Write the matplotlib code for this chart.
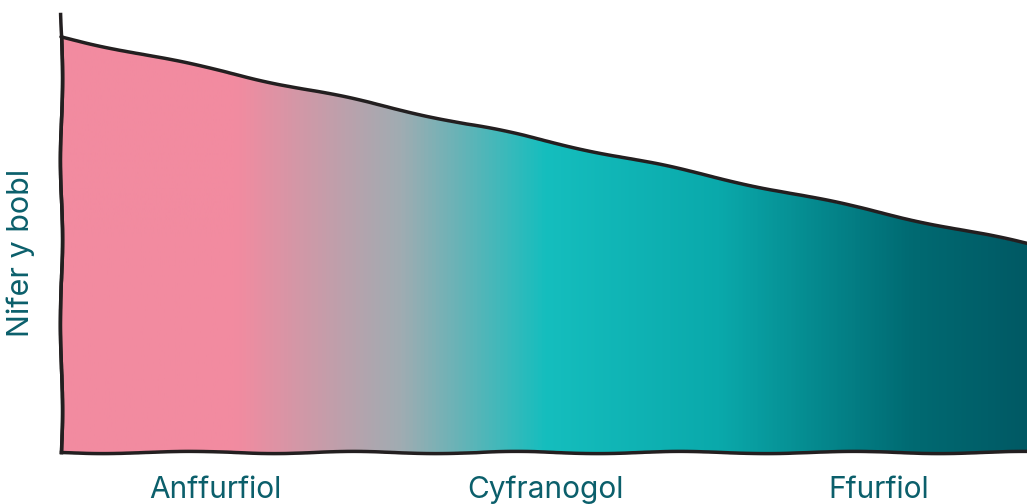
import matplotlib
matplotlib.use("Agg")
import matplotlib.pyplot as plt
import numpy as np
from matplotlib.colors import LinearSegmentedColormap

categories = ["Anffurfiol", "Cyfranogol", "Ffurfiol"]
values = [100, 75, 50]
x_pos = [0, 1, 2]
label_pos = [0.32, 1.0, 1.69]

text_color = "#0b5f6b"
line_color = "#231f20"
plt.rcParams['font.family'] = ['Inter', 'DejaVu Sans']

fig = plt.figure(figsize=(10.27, 5.04), dpi=100)
ax = fig.add_axes([61/1027, 52/504, 1 - 61/1027 + 0.002, 438/504])

ymax = 105.5
ax.set_xlim(0, 2)
ax.set_ylim(0, ymax)

cmap = LinearSegmentedColormap.from_list(
    "grad",
    [(0.0, "#f28ba0"), (0.18, "#f28ba0"), (0.35, "#a0acb2"),
     (0.50, "#15bebe"), (0.68, "#0aa9ab"), (0.88, "#006a72"), (1.0, "#005964")])

poly = ax.fill_between(x_pos, values, 0, color="none", linewidth=0)
grad = np.linspace(0, 1, 512).reshape(1, -1)
im = ax.imshow(grad, cmap=cmap, aspect="auto", extent=[0, 2, 0, ymax],
               origin="lower", zorder=1)
im.set_clip_path(poly.get_paths()[0], transform=ax.transData)

sk = (1.1, 180, 1.8)
with plt.rc_context({'path.sketch': sk}):
    ax.plot(x_pos, values, color=line_color, linewidth=2.5, zorder=3,
            solid_capstyle="round", clip_on=False)
    ax.plot([0, 0], [0, values[0]], color=line_color, linewidth=2.5, zorder=3,
            clip_on=False)
for side in ["left", "bottom"]:
    ax.spines[side].set_sketch_params(*sk)
    ax.spines[side].set_linewidth(2.5)
    ax.spines[side].set_color(line_color)
    ax.spines[side].set_zorder(4)
for side in ["top", "right"]:
    ax.spines[side].set_visible(False)

ax.set_yticks([])
ax.set_xticks(label_pos)
ax.set_xticklabels(categories, fontsize=21.5, color=text_color)
ax.tick_params(axis="x", length=0, pad=17)
ax.set_ylabel("Nifer y bobl", fontsize=22, color=text_color)
ax.yaxis.set_label_coords(-0.027, 0.455)

fig.savefig("out.png", dpi=100)
